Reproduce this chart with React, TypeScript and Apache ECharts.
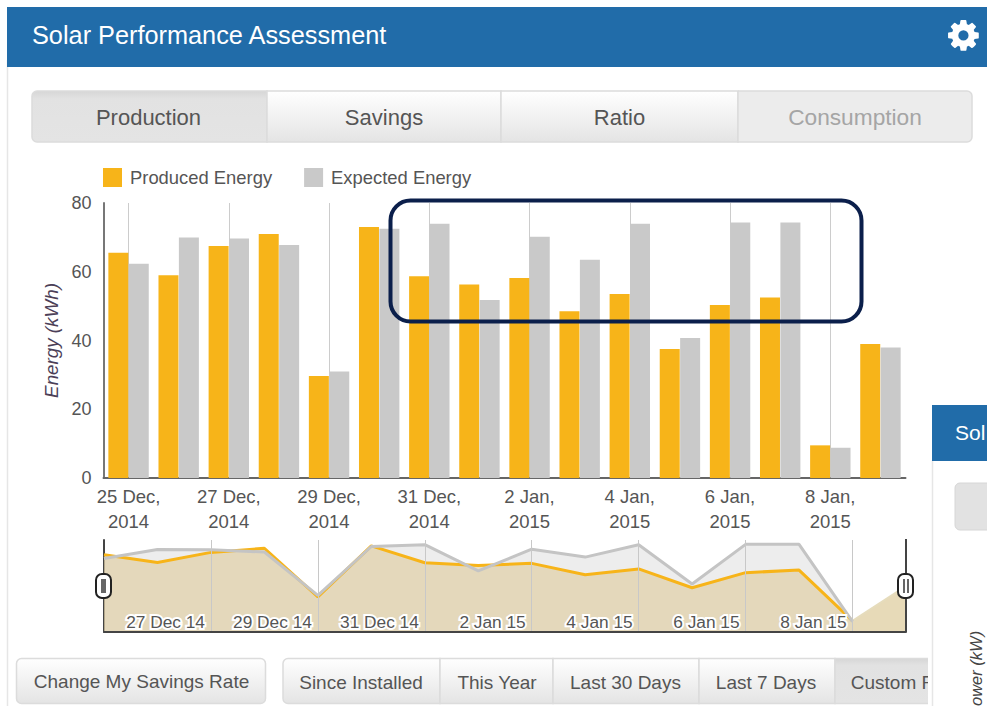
import React, { useEffect, useRef } from "react";
import * as echarts from "echarts";

const categories = ["25 Dec,\n2014","26 Dec,\n2014","27 Dec,\n2014","28 Dec,\n2014","29 Dec,\n2014","30 Dec,\n2014","31 Dec,\n2014","1 Jan,\n2015","2 Jan,\n2015","3 Jan,\n2015","4 Jan,\n2015","5 Jan,\n2015","6 Jan,\n2015","7 Jan,\n2015","8 Jan,\n2015","9 Jan,\n2015"];
const navCategories = ["25 Dec 14","26 Dec 14","27 Dec 14","28 Dec 14","29 Dec 14","30 Dec 14","31 Dec 14","1 Jan 15","2 Jan 15","3 Jan 15","4 Jan 15","5 Jan 15","6 Jan 15","7 Jan 15","8 Jan 15","9 Jan 15"];
const produced = [65.5,59,67.5,71,29.7,73,58.7,56.3,58.2,48.5,53.5,37.5,50.3,52.5,9.5,39];
const expected = [62.3,70,69.7,67.8,31,72.5,74,51.8,70.2,63.5,74,40.7,74.3,74.3,8.8,38];
const tabLabels = ["Production","Savings","Ratio","Consumption"];
const rangeLabels = ["Since Installed","This Year","Last 30 Days","Last 7 Days","Custom R"];

const FONT = "Liberation Sans";
const ORANGE = "#f7b419";
const GRAY = "#c9c9c9";
const BLUE = "#216ca9";
const TEXT = "#555555";
const GEAR = "M1152 896q0-106-75-181t-181-75-181 75-75 181 75 181 181 75 181-75 75-181zm512-109v222q0 12-8 23t-20 13l-185 28q-19 54-39 91 35 50 107 138 10 12 10 25t-9 23q-27 37-99 108t-94 71q-12 0-26-9l-138-108q-44 23-91 38-16 136-29 186-7 28-36 28h-222q-14 0-24.5-8.5t-11.5-21.5l-28-184q-49-16-90-37l-141 107q-10 9-25 9-14 0-25-11-126-114-165-168-7-10-7-23 0-12 8-23 15-21 51-66.5t54-70.5q-27-50-41-99l-183-27q-13-2-21-12.5t-8-23.5v-222q0-12 8-23t19-13l186-28q14-46 39-92-40-57-107-138-10-12-10-24 0-10 9-23 26-36 98.5-107.5t94.5-71.5q13 0 26 10l138 107q44-23 91-38 16-136 29-186 7-28 36-28h222q14 0 24.5 8.5t11.5 21.5l28 184q49 16 90 37l142-107q9-9 24-9 13 0 25 10 129 119 165 170 7 8 7 22 0 12-8 23-15 21-51 66.5t-54 70.5q26 50 41 98l183 28q13 2 21 12.5t8 23.5z";

export default function App() {
  const ref = useRef<HTMLDivElement>(null);
  useEffect(() => {
    document.body.style.margin = "0";
    echarts.graphic.registerShape("gear", echarts.graphic.extendPath(GEAR as any, {}) as any);
    const chart = echarts.init(ref.current!, null, { renderer: "svg" });

    const grad = () => new echarts.graphic.LinearGradient(0, 0, 0, 1, [
      { offset: 0, color: "#ffffff" }, { offset: 1, color: "#e4e4e4" },
    ]);
    const pressed = () => new echarts.graphic.LinearGradient(0, 0, 0, 1, [
      { offset: 0, color: "#d6d6d6" }, { offset: 0.15, color: "#e2e2e2" }, { offset: 1, color: "#e4e4e4" },
    ]);
    const btn = (x: number, y: number, w: number, h: number, fill: any, r: any = 0, stroke = "#dcdcdc"): any => ({
      type: "rect", shape: { x, y, width: w, height: h, r }, style: { fill, stroke, lineWidth: 1.5 }, z: 1,
    });
    const label = (x: number, y: number, text: string, size: number, fill = TEXT, extra: any = {}): any => ({
      type: "text", x, y, z: 2,
      style: { text, fill, font: `${size}px "${FONT}"`, align: "center", verticalAlign: "middle", ...extra },
    });

    const tabEdges = [32, 267, 501, 738, 972];
    const rangeEdges = [283, 440, 553, 699, 835, 945];
    const rangeCenters = [361, 497, 625.5, 766, 893];

    const graphic: any[] = [
      // panel outline and header
      { type: "line", shape: { x1: 7.5, y1: 60, x2: 7.5, y2: 706 }, style: { stroke: "#e6e6e6", lineWidth: 1.5 }, z: 0 },
      { type: "rect", shape: { x: 7, y: 7, width: 980, height: 60 }, style: { fill: BLUE }, z: 1 },
      label(32, 35, "Solar Performance Assessment", 25.3, "#ffffff", { align: "left" }),
      { type: "gear", x: 945.5, y: 17.5, scaleX: 0.0195, scaleY: 0.0195, style: { fill: "#ffffff" }, z: 2 },
      // tabs
      ...tabLabels.map((t, i) => {
        const f = i === 0 ? pressed() : i === 3 ? "#ececec" : grad();
        const r = i === 0 ? [5, 0, 0, 5] : i === 3 ? [0, 5, 5, 0] : 0;
        return btn(tabEdges[i], 91, tabEdges[i + 1] - tabEdges[i], 51, f, r);
      }),
      ...tabLabels.map((t, i) =>
        label((tabEdges[i] + tabEdges[i + 1]) / 2 - (i === 0 ? 1 : 0), 117, t, i === 3 ? 22.7 : 22, i === 3 ? "#a5a5a5" : TEXT)),
      // bottom buttons
      btn(16.5, 658.5, 249, 45, grad(), 5),
      label(141.5, 681, "Change My Savings Rate", 19),
      ...rangeLabels.map((t, i) => {
        const f = i === 4 ? pressed() : grad();
        return btn(rangeEdges[i], 658.5, rangeEdges[i + 1] - rangeEdges[i], 45, f, i === 0 ? [5, 0, 0, 5] : 0);
      }),
      ...rangeLabels.map((t, i) => label(rangeCenters[i], 682, t, 19)),
      // overlapping second panel
      { type: "rect", shape: { x: 928, y: 405, width: 59, height: 301 }, style: { fill: "#ffffff" }, z: 3 },
      { type: "line", shape: { x1: 932.5, y1: 460, x2: 932.5, y2: 706 }, style: { stroke: "#e6e6e6", lineWidth: 1.5 }, z: 4 },
      { type: "rect", shape: { x: 932, y: 405, width: 55, height: 56 }, style: { fill: BLUE }, z: 4 },
      { ...label(955, 432, "Sol", 21, "#ffffff", { align: "left" }), z: 5 },
      { type: "rect", shape: { x: 955, y: 483, width: 40, height: 47, r: 5 }, style: { fill: "#e2e2e2", stroke: "#d6d6d6" }, z: 4 },
      { type: "text", x: 976, y: 706, rotation: Math.PI / 2, z: 5,
        style: { text: "ower (kW)", fill: "#444", font: `italic 16.5px "${FONT}"`, align: "left", verticalAlign: "middle" } },
      // navigator edges and handles
      { type: "line", shape: { x1: 906, y1: 539, x2: 906, y2: 632 }, style: { stroke: "#444", lineWidth: 2 }, z: 6 },
      { type: "rect", shape: { x: 96, y: 574, width: 15, height: 24, r: 6 }, style: { fill: "#fff", stroke: "#222", lineWidth: 2 }, z: 7 },
      { type: "rect", shape: { x: 101, y: 579, width: 5, height: 14 }, style: { fill: "#666" }, z: 8 },
      { type: "rect", shape: { x: 898, y: 574, width: 15, height: 24, r: 6 }, style: { fill: "#fff", stroke: "#222", lineWidth: 2 }, z: 7 },
      { type: "rect", shape: { x: 903, y: 579, width: 2, height: 14 }, style: { fill: "#666" }, z: 8 },
      { type: "rect", shape: { x: 907, y: 579, width: 2, height: 14 }, style: { fill: "#666" }, z: 8 },
      // callout
      { type: "rect", shape: { x: 390.5, y: 200.5, width: 471, height: 121, r: 20 }, style: { fill: "none", stroke: "#0b1f4b", lineWidth: 4 }, z: 10 },
    ];

    const last = produced.length - 1;
    const labelled = (i: number) => i % 2 === 0 && i > 0;

    chart.setOption({
      animation: false,
      backgroundColor: "#ffffff",
      textStyle: { fontFamily: FONT },
      legend: {
        data: ["Produced Energy", "Expected Energy"],
        left: 103, top: 168, padding: 0, itemWidth: 19, itemHeight: 19, itemGap: 32, icon: "rect",
        textStyle: { fontSize: 18.4, color: TEXT, fontFamily: FONT, padding: [0, 0, 0, 3] },
        selectedMode: false,
      },
      grid: [
        { left: 103.5, top: 203, width: 802, height: 275 },
        { left: 104, top: 540, width: 802, height: 92 },
      ],
      xAxis: [
        {
          type: "category", gridIndex: 0, data: categories,
          axisLine: { lineStyle: { color: "#666", width: 2 } },
          axisTick: { show: false },
          axisLabel: { interval: 1, color: TEXT, fontSize: 18.5, lineHeight: 25, margin: 6, fontFamily: FONT },
          splitLine: { show: true, interval: 1, alignWithLabel: true, lineStyle: { color: "#cccccc", width: 1 } } as any,
        },
        {
          type: "category", gridIndex: 1, data: navCategories, boundaryGap: false, z: 5,
          axisLine: { lineStyle: { color: "#444", width: 2 } },
          axisTick: { show: false },
          axisLabel: {
            inside: true, interval: (i: number) => labelled(i), align: "right", margin: 2,
            padding: [0, 6, 0, 0], color: TEXT, fontSize: 17.3, fontFamily: FONT,
            textBorderColor: "#ffffff", textBorderWidth: 4,
          },
          splitLine: { show: true, interval: (i: number) => labelled(i), lineStyle: { color: "#c8c8c8", width: 1 } },
        },
      ],
      yAxis: [
        {
          type: "value", gridIndex: 0, min: 0, max: 80, interval: 20,
          name: "Energy (kWh)", nameLocation: "middle", nameGap: 42,
          nameTextStyle: { fontStyle: "italic", fontSize: 18.8, color: "#4c3f58", fontFamily: FONT },
          axisLine: { show: true, lineStyle: { color: "#777", width: 2 } },
          axisTick: { show: false },
          axisLabel: { color: TEXT, fontSize: 18, margin: 12, fontFamily: FONT },
          splitLine: { show: false },
        },
        {
          type: "value", gridIndex: 1, min: 0, max: 78,
          axisLine: { show: true, lineStyle: { color: "#444", width: 2 } },
          axisTick: { show: false }, axisLabel: { show: false }, splitLine: { show: false },
        },
      ],
      series: [
        { name: "Produced Energy", type: "bar", data: produced, barWidth: 20, barGap: "2%", itemStyle: { color: ORANGE } },
        { name: "Expected Energy", type: "bar", data: expected, barWidth: 20, barGap: "2%", itemStyle: { color: GRAY } },
        {
          name: "Expected area", type: "line", xAxisIndex: 1, yAxisIndex: 1, symbol: "none",
          data: expected.map((v, i) => (i < last ? v : null)),
          lineStyle: { width: 0 }, areaStyle: { color: "rgba(200,200,200,0.32)", opacity: 1 },
        },
        {
          name: "Produced line", type: "line", xAxisIndex: 1, yAxisIndex: 1, symbol: "none",
          data: produced.map((v, i) => (i < last ? v : null)),
          lineStyle: { color: ORANGE, width: 3 }, areaStyle: { color: "rgba(222,204,157,0.62)", opacity: 1 },
        },
        {
          name: "Produced tail", type: "line", xAxisIndex: 1, yAxisIndex: 1, symbol: "none",
          data: produced.map((v, i) => (i >= last - 1 ? v : null)),
          lineStyle: { color: "#e6dcbc", width: 2 }, areaStyle: { color: "rgba(222,204,157,0.72)", opacity: 1 },
        },
        {
          name: "Expected line", type: "line", xAxisIndex: 1, yAxisIndex: 1, symbol: "none",
          data: expected.map((v, i) => (i < last ? v : null)),
          lineStyle: { color: "#c4c4c4", width: 3 },
        },
      ],
      graphic,
    } as any);
    return () => chart.dispose();
  }, []);
  return <div ref={ref} style={{ width: 987, height: 706 }} />;
}
